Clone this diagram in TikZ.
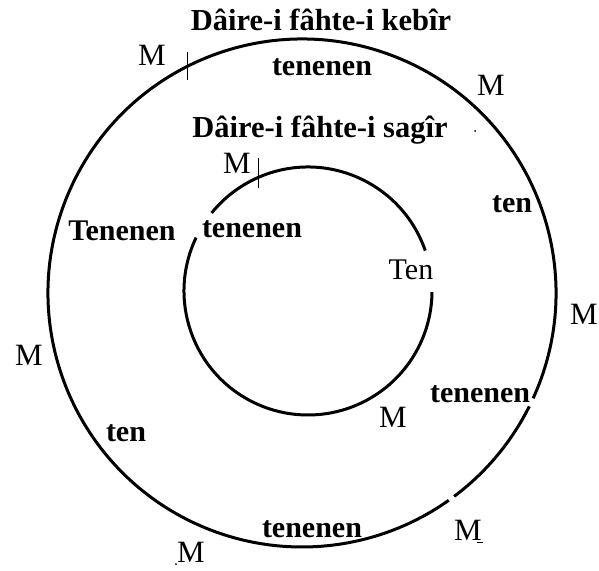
\documentclass[tikz,border=0pt]{standalone}
\usepackage{fontspec}
\setmainfont{Liberation Serif}
\begin{document}
\begin{tikzpicture}[x=1pt,y=1pt,
  ring/.style={line width=3pt},
  tickmark/.style={line width=1pt},
  lbl/.style={inner sep=0pt,anchor=base,font=\fontsize{30}{30}\selectfont\bfseries},
  mlbl/.style={inner sep=0pt,anchor=base,font=\fontsize{31}{31}\selectfont},
  tlbl/.style={inner sep=0pt,anchor=base,font=\fontsize{30}{30}\selectfont},
  title/.style={inner sep=0pt,anchor=base,font=\fontsize{30.5}{30.5}\selectfont\bfseries}]
\useasboundingbox[fill=white] (0,-570) rectangle (599,0);
% centres
\coordinate (bigc) at (302,-293);
\coordinate (smc) at (308,-291);
% big circle (two small gaps)
\draw[ring] (bigc) ++(-24.5:254) arc[start angle=-24.5,end angle=305.3,radius=254];
\draw[ring] (bigc) ++(-53.2:254) arc[start angle=-53.2,end angle=-26.5,radius=254];
% small circle (two gaps)
\draw[ring] (smc) ++(19:124) arc[start angle=19,end angle=141,radius=124];
\draw[ring] (smc) ++(154.5:124) arc[start angle=154.5,end angle=359.5,radius=124];
% tick marks
\coordinate (tb1) at (187,-52); \coordinate (tb2) at (187,-80);
\draw[tickmark] (tb1) -- (tb2);
\coordinate (ts1) at (258,-158); \coordinate (ts2) at (258,-188);
\draw[tickmark] (ts1) -- (ts2);
% titles
\node[title] (tbig) at (321,-30) {Dâire-i fâhte-i kebîr};
\node[title] (tsmall) at (320,-137) {Dâire-i fâhte-i sagîr};
% labels
\node[mlbl] (m1) at (152,-65) {M};
\node[lbl] (t1) at (322,-75) {tenenen};
\node[mlbl] (m2) at (491,-95) {M};
\node[mlbl] (m3) at (237,-173) {M};
\node[lbl] (t2) at (512,-212) {ten};
\node[lbl] (t3) at (122,-240) {Tenenen};
\node[lbl] (t4) at (252,-237) {tenenen};
\node[tlbl] (t5) at (411,-279) {Ten};
\node[mlbl] (m4) at (584,-324) {M};
\node[mlbl] (m5) at (29,-365) {M};
\node[lbl] (t6) at (480,-402) {tenenen};
\node[mlbl] (m6) at (393,-427) {M};
\node[lbl] (t7) at (126,-441) {ten};
\node[lbl] (t8) at (312,-537) {tenenen};
\node[mlbl] (m7) at (191,-562) {M};
\node[mlbl] (m8) at (468,-540) {M};
% small marks
\fill (475,-131) circle (1pt);
\fill (176,-564) circle (1pt);
\draw[line width=1pt] (477,-542) -- (483,-542);
\end{tikzpicture}
\end{document}
